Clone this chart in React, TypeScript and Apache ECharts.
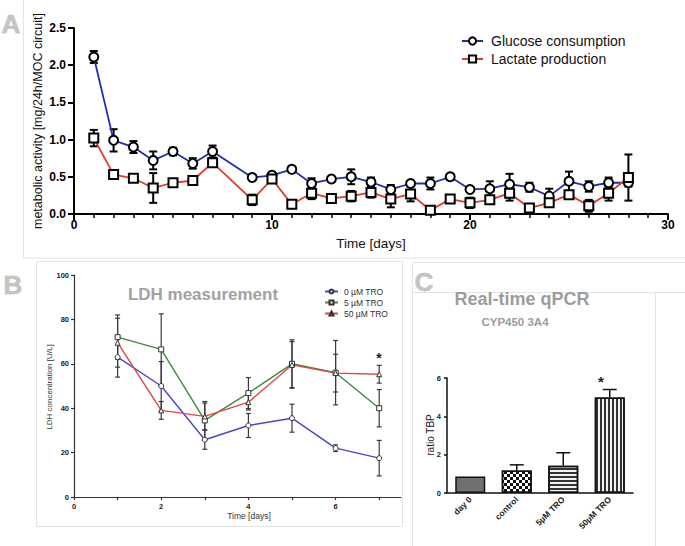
import React, { useEffect, useRef } from 'react';
import * as echarts from 'echarts';

const FONT = "'Liberation Sans', Arial, Helvetica, sans-serif";

// Panel A: metabolic activity
const metabolicDays = [1, 2, 3, 4, 5, 6, 7, 9, 10, 11, 12, 13, 14, 15, 16, 17, 18, 19, 20, 21, 22, 23, 24, 25, 26, 27, 28];
const glucoseMean = [2.11, 0.99, 0.9, 0.72, 0.84, 0.68, 0.84, 0.49, 0.52, 0.6, 0.41, 0.47, 0.5, 0.43, 0.33, 0.41, 0.41, 0.5, 0.33, 0.34, 0.4, 0.36, 0.24, 0.44, 0.37, 0.42, 0.42];
const glucoseErr = [0.08, 0.15, 0.08, 0.12, 0.05, 0.07, 0.08, 0.04, 0.04, 0.04, 0.07, 0.03, 0.1, 0.06, 0.06, 0.03, 0.08, 0.04, 0.02, 0.1, 0.14, 0.06, 0.1, 0.13, 0.07, 0.07, 0.05];
const lactateMean = [1.02, 0.53, 0.48, 0.35, 0.42, 0.45, 0.69, 0.19, 0.47, 0.13, 0.28, 0.21, 0.24, 0.29, 0.2, 0.27, 0.05, 0.2, 0.15, 0.19, 0.28, 0.08, 0.15, 0.26, 0.11, 0.28, 0.49];
const lactateErr = [0.11, 0.06, 0.03, 0.2, 0.04, 0.02, 0.03, 0.07, 0.05, 0.05, 0.08, 0.03, 0.07, 0.07, 0.11, 0.1, 0.03, 0.04, 0.07, 0.05, 0.1, 0.03, 0.04, 0.05, 0.08, 0.1, 0.31];

// Panel B: LDH measurement
const ldhDays = [1, 2, 3, 4, 5, 6, 7];
const ldh0 = [63, 50, 25.8, 32.2, 35.5, 22, 17.5];
const ldh0Err = [9, 11, 4.3, 5.4, 6.3, 1.5, 8];
const ldh5 = [72, 66.5, 34.5, 46.8, 60, 56, 40];
const ldh5Err = [10, 16, 8.5, 7, 10.8, 14.5, 8.4];
const ldh50 = [69.5, 39, 36.3, 42.7, 59.5, 55.8, 55.3];
const ldh50Err = [11, 4, 6, 3.5, 10.5, 8.5, 4];

// Panel C: Real-time qPCR
const qpcrCategories = ['day 0', 'control', '5µM TRO', '50µM TRO'];
const qpcrValues = [0.86, 1.17, 1.42, 4.98];
const qpcrErr = [0, 0.3, 0.68, 0.42];

const pairs = (xs: number[], ys: number[]) => xs.map((x, i) => [x, ys[i]]);
const errRows = (xs: number[], ys: number[], es: number[]) => xs.map((x, i) => [x, ys[i] - es[i], ys[i] + es[i]]);

function errorBarSeries(name: string, data: number[][], axis: number, color: string, lw: number, cap: number, topOnly = false) {
  return {
    type: 'custom',
    name,
    xAxisIndex: axis,
    yAxisIndex: axis,
    z: 3,
    silent: true,
    data,
    encode: { x: 0, y: [1, 2] },
    renderItem: (_params: any, api: any) => {
      const x = api.value(0);
      const lo = api.value(1);
      const hi = api.value(2);
      if (hi - lo <= 0) return { type: 'group', children: [] };
      const a = api.coord([x, hi]);
      const b = api.coord([x, lo]);
      const st = { stroke: color, lineWidth: lw };
      const children: any[] = [
        { type: 'line', shape: { x1: a[0], y1: a[1], x2: b[0], y2: b[1] }, style: st },
        { type: 'line', shape: { x1: a[0] - cap / 2, y1: a[1], x2: a[0] + cap / 2, y2: a[1] }, style: st },
      ];
      if (!topOnly) {
        children.push({ type: 'line', shape: { x1: b[0] - cap / 2, y1: b[1], x2: b[0] + cap / 2, y2: b[1] }, style: st });
      }
      return { type: 'group', children };
    },
  };
}

const letter = (t: string, x: number, y: number) => ({
  type: 'text',
  x,
  y,
  style: { text: t, fontSize: 26, fontWeight: 'bold', fontFamily: FONT, fill: '#c4c4c4', stroke: '#aaaaaa', lineWidth: 0.5, align: 'center', verticalAlign: 'middle' },
});

const frame = (x: number, y: number, w: number, h: number) => ({
  type: 'rect',
  shape: { x, y, width: w, height: h },
  style: { fill: 'none', stroke: '#e4e4e4', lineWidth: 1 },
  silent: true,
});

export default function App() {
  const ref = useRef<HTMLDivElement>(null);

  useEffect(() => {
    document.body.style.margin = '0';
    const chart = echarts.init(ref.current!, null, { renderer: 'svg' });

    const axA = { color: '#000', width: 2 };
    const axB = { color: '#333', width: 1.2 };

    const option: any = {
      animation: false,
      backgroundColor: '#fff',
      grid: [
        { left: 74, top: 28, width: 594, height: 186 },
        { left: 74, top: 275, width: 327, height: 222 },
        { left: 447, top: 378, width: 186, height: 115 },
      ],
      xAxis: [
        {
          gridIndex: 0, type: 'value', min: 0, max: 30, interval: 10,
          axisLine: { lineStyle: axA },
          axisTick: { length: 6, lineStyle: { width: 2, color: '#000' } },
          minorTick: { show: true, splitNumber: 10, length: 4, lineStyle: { width: 1.5, color: '#000' } },
          axisLabel: { fontSize: 12, fontWeight: 'bold', color: '#000', fontFamily: FONT, margin: 5 },
          splitLine: { show: false },
        },
        {
          gridIndex: 1, type: 'value', min: 0, max: 7.5, interval: 2,
          axisLine: { lineStyle: axB },
          axisTick: { length: 3, lineStyle: { width: 1.2, color: '#333' }, customValues: [0, 1, 2, 3, 4, 5, 6, 7] },
          axisLabel: { fontSize: 7.5, fontWeight: 'bold', color: '#222', fontFamily: FONT, margin: 5, customValues: [0, 2, 4, 6] },
          splitLine: { show: false },
        },
        {
          gridIndex: 2, type: 'category', data: qpcrCategories, boundaryGap: true,
          axisLine: { lineStyle: { color: '#111', width: 1.5 } },
          axisTick: { show: false },
          axisLabel: { fontSize: 8.5, fontWeight: 'bold', color: '#222', fontFamily: FONT, rotate: 45, margin: 5, interval: 0 },
          splitLine: { show: false },
        },
      ],
      yAxis: [
        {
          gridIndex: 0, type: 'value', min: 0, max: 2.5, interval: 0.5,
          axisLine: { show: true, lineStyle: axA },
          axisTick: { show: true, length: 6, lineStyle: { width: 2, color: '#000' } },
          axisLabel: { fontSize: 12, fontWeight: 'bold', color: '#000', fontFamily: FONT, margin: 8, formatter: (v: number) => v.toFixed(1) },
          splitLine: { show: false },
        },
        {
          gridIndex: 1, type: 'value', min: 0, max: 100, interval: 20,
          axisLine: { show: true, lineStyle: axB },
          axisTick: { show: true, length: 3, lineStyle: { width: 1.2, color: '#333' } },
          axisLabel: { fontSize: 7.5, fontWeight: 'bold', color: '#222', fontFamily: FONT, margin: 5 },
          splitLine: { show: false },
        },
        {
          gridIndex: 2, type: 'value', min: 0, max: 6, interval: 2,
          axisLine: { show: true, lineStyle: { color: '#111', width: 1.5 } },
          axisTick: { show: true, length: 3, lineStyle: { width: 1.5, color: '#111' } },
          axisLabel: { fontSize: 7.5, fontWeight: 'bold', color: '#222', fontFamily: FONT, margin: 6 },
          splitLine: { show: false },
        },
      ],
      legend: [
        {
          data: ['Glucose consumption', 'Lactate production'],
          left: 456, top: 29, orient: 'vertical', itemWidth: 21, itemHeight: 9, itemGap: 4,
          selectedMode: false,
          textStyle: { fontSize: 14, fontFamily: FONT, color: '#111', padding: [0, 0, 0, 3] },
        },
        {
          data: ['0 µM TRO', '5 µM TRO', '50 µM TRO'],
          left: 319, top: 282, orient: 'vertical', itemWidth: 13, itemHeight: 5, itemGap: 2,
          selectedMode: false,
          textStyle: { fontSize: 8.5, fontFamily: FONT, color: '#333', padding: [0, 0, 0, 1] },
        },
      ],
      series: [
        errorBarSeries('glucose-err', errRows(metabolicDays, glucoseMean, glucoseErr), 0, '#000', 2, 8),
        errorBarSeries('lactate-err', errRows(metabolicDays, lactateMean, lactateErr), 0, '#000', 2, 8),
        {
          name: 'Glucose consumption', type: 'line', xAxisIndex: 0, yAxisIndex: 0, z: 4,
          data: pairs(metabolicDays, glucoseMean), symbol: 'circle', symbolSize: 9, showAllSymbol: true,
          lineStyle: { color: '#1f2fb0', width: 1.8 },
          itemStyle: { color: '#fff', borderColor: '#000', borderWidth: 2 },
        },
        {
          name: 'Lactate production', type: 'line', xAxisIndex: 0, yAxisIndex: 0, z: 4,
          data: pairs(metabolicDays, lactateMean), symbol: 'rect', symbolSize: 9, showAllSymbol: true,
          lineStyle: { color: '#e03a2c', width: 1.8 },
          itemStyle: { color: '#fff', borderColor: '#000', borderWidth: 2 },
        },
        errorBarSeries('ldh0-err', errRows(ldhDays, ldh0, ldh0Err), 1, '#3a3a3a', 1.2, 5),
        errorBarSeries('ldh5-err', errRows(ldhDays, ldh5, ldh5Err), 1, '#3a3a3a', 1.2, 5),
        errorBarSeries('ldh50-err', errRows(ldhDays, ldh50, ldh50Err), 1, '#3a3a3a', 1.2, 5),
        {
          name: '0 µM TRO', type: 'line', xAxisIndex: 1, yAxisIndex: 1, z: 4,
          data: pairs(ldhDays, ldh0), symbol: 'circle', symbolSize: 5,
          lineStyle: { color: '#4646cf', width: 1.4 },
          itemStyle: { color: '#fff', borderColor: '#333', borderWidth: 1 },
        },
        {
          name: '5 µM TRO', type: 'line', xAxisIndex: 1, yAxisIndex: 1, z: 4,
          data: pairs(ldhDays, ldh5), symbol: 'rect', symbolSize: 5,
          lineStyle: { color: '#3c8a3c', width: 1.4 },
          itemStyle: { color: '#fff', borderColor: '#333', borderWidth: 1 },
        },
        {
          name: '50 µM TRO', type: 'line', xAxisIndex: 1, yAxisIndex: 1, z: 4,
          data: pairs(ldhDays, ldh50), symbol: 'triangle', symbolSize: 5,
          lineStyle: { color: '#e04646', width: 1.4 },
          itemStyle: { color: '#fff', borderColor: '#333', borderWidth: 1 },
        },
        {
          name: 'ratio TBP', type: 'bar', xAxisIndex: 2, yAxisIndex: 2, z: 2, barWidth: 30,
          data: qpcrValues.map((v, i) => ({
            value: v,
            itemStyle: [
              { color: '#707070' },
              { color: '#fff', decal: { symbol: 'rect', symbolSize: 1, color: '#111', dashArrayX: [[2.5, 2.5], [0, 2.5, 2.5, 0]], dashArrayY: [2.5, 0] } },
              { color: '#f2f2f2', decal: { symbol: 'rect', symbolSize: 1, color: '#333', dashArrayX: [1, 0], dashArrayY: [1.2, 1.8] } },
              { color: '#f2f2f2', decal: { symbol: 'rect', symbolSize: 1, color: '#333', dashArrayX: [1.2, 1.8], dashArrayY: [1, 0] } },
            ][i],
          })),
          itemStyle: { borderColor: '#111', borderWidth: 1.5 },
        },
        errorBarSeries('qpcr-err', qpcrValues.map((v, i) => [i, v, v + qpcrErr[i]]), 2, '#111', 1.5, 14, true),
      ],
      graphic: [
        frame(23.5, -1, 670, 259),
        frame(36.5, 261.5, 366, 265),
        frame(412.5, 262.5, 280, 30),
        frame(412.5, 292.5, 243, 260),
        letter('A', 11, 24),
        letter('B', 13, 285),
        letter('C', 424, 282),
        {
          type: 'text', x: 38, y: 121, rotation: Math.PI / 2,
          style: { text: 'metabolic activity [mg/24h/MOC circuit]', fontSize: 12.5, fontFamily: FONT, fill: '#111', align: 'center', verticalAlign: 'middle' },
        },
        {
          type: 'text', x: 371, y: 243,
          style: { text: 'Time [days]', fontSize: 13.5, fontFamily: FONT, fill: '#111', align: 'center', verticalAlign: 'middle' },
        },
        {
          type: 'text', x: 203, y: 294,
          style: { text: 'LDH measurement', fontSize: 17, fontWeight: 'bold', fontFamily: FONT, fill: '#a2a2a2', align: 'center', verticalAlign: 'middle' },
        },
        {
          type: 'text', x: 49, y: 387, rotation: Math.PI / 2,
          style: { text: 'LDH concentration [U/L]', fontSize: 8, fontFamily: FONT, fill: '#333', align: 'center', verticalAlign: 'middle' },
        },
        {
          type: 'text', x: 249, y: 516,
          style: { text: 'Time [days]', fontSize: 8.5, fontFamily: FONT, fill: '#333', align: 'center', verticalAlign: 'middle' },
        },
        {
          type: 'text', x: 379, y: 358,
          style: { text: '*', fontSize: 14, fontWeight: 'bold', fontFamily: FONT, fill: '#222', align: 'center', verticalAlign: 'middle' },
        },
        {
          type: 'text', x: 522, y: 299,
          style: { text: 'Real-time qPCR', fontSize: 18, fontWeight: 'bold', fontFamily: FONT, fill: '#9c9c9c', align: 'center', verticalAlign: 'middle' },
        },
        {
          type: 'text', x: 515, y: 322,
          style: { text: 'CYP450 3A4', fontSize: 11.5, fontWeight: 'bold', fontFamily: FONT, fill: '#9c9c9c', align: 'center', verticalAlign: 'middle' },
        },
        {
          type: 'text', x: 430, y: 435, rotation: Math.PI / 2,
          style: { text: 'ratio TBP', fontSize: 10, fontFamily: FONT, fill: '#222', align: 'center', verticalAlign: 'middle' },
        },
        {
          type: 'text', x: 601, y: 381,
          style: { text: '*', fontSize: 15, fontWeight: 'bold', fontFamily: FONT, fill: '#222', align: 'center', verticalAlign: 'middle' },
        },
      ],
    };

    chart.setOption(option);
    return () => chart.dispose();
  }, []);

  return <div ref={ref} style={{ width: 685, height: 546 }} />;
}
